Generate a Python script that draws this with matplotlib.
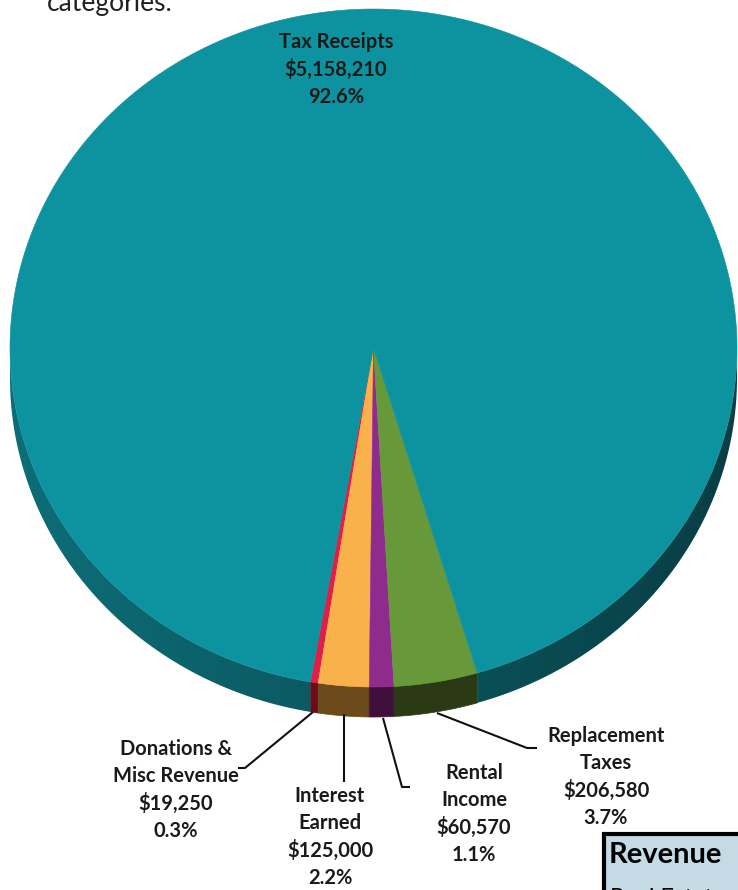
import matplotlib
matplotlib.use("Agg")
import numpy as np
from matplotlib import pyplot as plt
from matplotlib.patches import Polygon, Rectangle

# Revenue data (counter-clockwise from the bottom-left)
categories = ['Donations &\nMisc Revenue', 'Interest\nEarned', 'Rental\nIncome',
              'Replacement\nTaxes', 'Tax Receipts']
amounts = [19250, 125000, 60570, 206580, 5158210]
amount_labels = ['$19,250', '$125,000', '$60,570', '$206,580', '$5,158,210']
percent_labels = ['0.3%', '2.2%', '1.1%', '3.7%', '92.6%']

top_colors = ['#E01E4A', '#F9B14C', '#8F2B8C', '#67983A', '#0D929F']
side_colors = ['#6A0C1C', '#6C4A1A', '#400F3E', '#2B3A14', None]
teal_side_left = np.array([13, 110, 120]) / 255
teal_side_right = np.array([8, 62, 68]) / 255

# pie geometry in pixels
CX, CY, RX, RY, DEPTH = 373.5, 348, 363.5, 339, 30
START = 260.0

W, H = 738, 890
fig = plt.figure(figsize=(W / 100, H / 100), dpi=100)
ax = fig.add_axes([0, 0, 1, 1])
ax.set_xlim(0, W)
ax.set_ylim(H, 0)
ax.axis('off')

# horizontal shading for the teal wall
grad = np.linspace(0, 1, 256)[None, :, None]
grad_img = teal_side_left * (1 - grad) + teal_side_right * grad


def rim(theta, dy=0.0):
    t = np.radians(theta)
    return np.column_stack([CX + RX * np.cos(t), CY - RY * np.sin(t) + dy])


def side_poly(a, b, color):
    th = np.linspace(a, b, max(int(abs(b - a) * 3), 2))
    pts = np.vstack([rim(th), rim(th[::-1], DEPTH)])
    if color is None:
        p = Polygon(pts, closed=True, facecolor='none', edgecolor='none')
        ax.add_patch(p)
        im = ax.imshow(grad_img, extent=(CX - RX, CX + RX, CY + RY + DEPTH, CY - 10),
                       aspect='auto', zorder=1, interpolation='bilinear')
        im.set_clip_path(p)
    else:
        ax.add_patch(Polygon(pts, closed=True, facecolor=color, edgecolor=color, lw=0.5, zorder=1))


fracs = np.array(amounts) / sum(amounts)
edges = START + np.concatenate([[0], np.cumsum(fracs)]) * 360

# side walls (front half only)
for i in range(len(amounts)):
    a, b = edges[i], edges[i + 1]
    for k in (0, 1):
        lo, hi = max(a, 180 + 360 * k), min(b, 360 + 360 * k)
        if hi > lo:
            side_poly(lo, hi, side_colors[i])

# top faces
for i in range(len(amounts)):
    th = np.linspace(edges[i], edges[i + 1], max(int((edges[i + 1] - edges[i]) * 3), 3))
    pts = np.vstack([[CX, CY], rim(th)])
    ax.add_patch(Polygon(pts, closed=True, facecolor=top_colors[i], edgecolor=top_colors[i],
                         lw=0.4, zorder=2))

ax.set_xlim(0, W)
ax.set_ylim(H, 0)

lab_font = dict(family='Lato', weight='bold', fontsize=14.5, color='#1a1a1a',
                ha='center', va='top', linespacing=1.42)

# label positions (pixels) and leader lines
label_xy = [(176, 739), (330, 786), (474, 763), (606, 726), (336, 32)]
leaders = [
    [(313, 712), (245, 768), (238, 768)],
    [(344, 714), (344, 782)],
    [(383, 718), (402, 787), (410, 787)],
    [(437, 713), (527, 748), (537, 748)],
]

for i in range(len(amounts)):
    txt = f'{categories[i]}\n{amount_labels[i]}\n{percent_labels[i]}'
    ax.text(label_xy[i][0], label_xy[i][1], txt, zorder=4, **lab_font)

for line in leaders:
    xs, ys = zip(*line)
    ax.plot(xs, ys, color='#111111', lw=1.5, zorder=3, solid_capstyle='butt')

# surrounding page fragments
ax.text(47, 11, 'categories.', family='Lato', fontsize=19, color='#231F20',
        ha='left', va='baseline')
ax.add_patch(Rectangle((604, 834), 160, 80, facecolor='#C4DAE4', edgecolor='black', lw=3, zorder=5))
ax.text(609, 863, 'Revenue', family='Lato', weight='bold', fontsize=21, color='black',
        ha='left', va='baseline', zorder=6)
ax.text(610, 905, 'Real Estate', family='Lato', fontsize=17, color='black',
        ha='left', va='baseline', zorder=6, clip_on=True)

fig.savefig('out.png', dpi=100, facecolor='white')
